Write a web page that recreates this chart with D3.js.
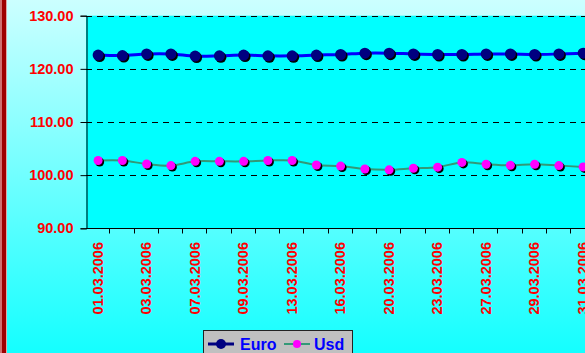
<!DOCTYPE html>
<html>
<head>
<meta charset="utf-8">
<script src="https://cdn.jsdelivr.net/npm/d3@7"></script>
<style>
  html, body { margin: 0; padding: 0; background: #fff; }
  svg { display: block; }
  text { font-family: "Liberation Sans", Arial, sans-serif; font-weight: bold; }
</style>
</head>
<body>
<svg id="chart" width="585" height="353"></svg>
<script>
// Daily exchange rates, March 2006
const dates = [
  "01.03.2006", "02.03.2006", "03.03.2006", "06.03.2006", "07.03.2006",
  "08.03.2006", "09.03.2006", "10.03.2006", "13.03.2006", "15.03.2006",
  "16.03.2006", "17.03.2006", "20.03.2006", "22.03.2006", "23.03.2006",
  "24.03.2006", "27.03.2006", "28.03.2006", "29.03.2006", "30.03.2006",
  "31.03.2006"
];
const euro = [
  122.60, 122.50, 122.80, 122.80, 122.40, 122.45, 122.60, 122.45, 122.45, 122.60,
  122.70, 122.95, 122.95, 122.80, 122.70, 122.70, 122.80, 122.80, 122.70, 122.80,
  122.95
];
const usd = [
  102.75, 102.75, 102.10, 101.80, 102.60, 102.60, 102.60, 102.75, 102.75, 101.90,
  101.70, 101.15, 101.00, 101.30, 101.50, 102.40, 102.05, 101.85, 102.05, 101.80,
  101.55
];
const tickLabels = [
  "01.03.2006", "03.03.2006", "07.03.2006", "09.03.2006", "13.03.2006",
  "16.03.2006", "20.03.2006", "23.03.2006", "27.03.2006", "29.03.2006",
  "31.03.2006"
];
const yTicks = [90, 100, 110, 120, 130];
const seriesNames = ["Euro", "Usd"];

const W = 585, H = 353;
const plot = { left: 86, top: 15.7, bottom: 228.3, band: 24.25 };
const svg = d3.select("#chart");

// background gradient
const defs = svg.append("defs");
const grad = defs.append("linearGradient")
  .attr("id", "bg").attr("x1", 0).attr("y1", 0).attr("x2", 0).attr("y2", 1);
grad.append("stop").attr("offset", "0%").attr("stop-color", "#CCFFFF");
grad.append("stop").attr("offset", "100%").attr("stop-color", "#14FFFF");
svg.append("rect").attr("width", W).attr("height", H).attr("fill", "url(#bg)");

// left frame edge
svg.append("rect").attr("x", 0).attr("y", 0).attr("width", 2).attr("height", H).attr("fill", "#D07070");
svg.append("rect").attr("x", 2).attr("y", 0).attr("width", 4).attr("height", H).attr("fill", "#9E0000");
svg.append("rect").attr("x", 6).attr("y", 0).attr("width", 1).attr("height", H).attr("fill", "#E0A8A8");

const x = d3.scaleBand()
  .domain(dates)
  .range([plot.left, plot.left + dates.length * plot.band])
  .paddingInner(0).paddingOuter(0);
const cx = d => x(d) + x.bandwidth() / 2;

const y = d3.scaleLinear().domain([90, 130]).range([plot.bottom, plot.top]);

// plot area
svg.append("rect")
  .attr("x", plot.left).attr("y", plot.top)
  .attr("width", x.range()[1] - plot.left).attr("height", plot.bottom - plot.top)
  .attr("fill", "#00FFFF");

// dashed gridlines
svg.append("g").selectAll("line")
  .data(yTicks.filter(v => v > 90))
  .join("line")
  .attr("x1", plot.left).attr("x2", W)
  .attr("y1", d => Math.round(y(d)) + 0.5).attr("y2", d => Math.round(y(d)) + 0.5)
  .attr("stroke", "#000").attr("stroke-width", 1)
  .attr("stroke-dasharray", "6,5");

// y axis
const yAxis = svg.append("g")
  .attr("transform", `translate(${plot.left + 0.5},0)`)
  .call(d3.axisLeft(y).tickValues(yTicks).tickFormat(d3.format(".2f")).tickSize(6).tickPadding(7));
yAxis.select(".domain").attr("stroke", "#000");
yAxis.selectAll(".tick line").attr("stroke", "#000");
yAxis.selectAll(".tick text")
  .attr("fill", "#FF0000").attr("font-size", "14.5px")
  .attr("font-family", "Liberation Sans, Arial, sans-serif").attr("font-weight", "bold");

// x axis: ticks between categories
const xAxisG = svg.append("g").attr("transform", `translate(0,${Math.round(plot.bottom) + 0.5})`);
xAxisG.append("line")
  .attr("x1", plot.left).attr("x2", W)
  .attr("stroke", "#000");
xAxisG.selectAll("line.tk")
  .data(dates)
  .join("line").attr("class", "tk")
  .attr("x1", d => Math.round(x(d) + x.bandwidth()) - 0.5)
  .attr("x2", d => Math.round(x(d) + x.bandwidth()) - 0.5)
  .attr("y1", 0).attr("y2", 5)
  .attr("stroke", "#000");

// rotated category labels
svg.append("g").selectAll("text")
  .data(tickLabels)
  .join("text")
  .attr("transform", d => `translate(${cx(d) - 0.5},242) rotate(-90)`)
  .attr("text-anchor", "end")
  .attr("dy", "0.36em")
  .attr("fill", "#FF0000")
  .attr("font-size", "14.5px")
  .text(d => d);

// series
const series = [
  { name: seriesNames[0], values: euro, line: "#0000FF", lw: 3, fill: "#000080", r: 5.5 },
  { name: seriesNames[1], values: usd, line: "#339977", lw: 2, fill: "#FF00FF", r: 4.5 }
];

const lineGen = d3.line()
  .x((d, i) => cx(dates[i]))
  .y(d => y(d))
  .curve(d3.curveCatmullRom.alpha(0.5));

series.forEach(s => {
  svg.append("path")
    .datum(s.values)
    .attr("d", lineGen)
    .attr("fill", "none")
    .attr("stroke", s.line)
    .attr("stroke-width", s.lw);
  const g = svg.append("g");
  g.selectAll("circle.sh")
    .data(s.values)
    .join("circle").attr("class", "sh")
    .attr("cx", (d, i) => cx(dates[i]) + 1.5)
    .attr("cy", d => y(d) + 1.5)
    .attr("r", s.r)
    .attr("fill", "#000");
  g.selectAll("circle.mk")
    .data(s.values)
    .join("circle").attr("class", "mk")
    .attr("cx", (d, i) => cx(dates[i]))
    .attr("cy", d => y(d))
    .attr("r", s.r)
    .attr("fill", s.fill);
});

// legend
const lg = svg.append("g");
lg.append("rect")
  .attr("x", 203.5).attr("y", 330.5).attr("width", 149).attr("height", 30)
  .attr("fill", "#C0C0C0").attr("stroke", "#222").attr("stroke-width", 1);
const legendItems = [
  { s: series[0], x0: 208, x1: 234, tx: 240 },
  { s: series[1], x0: 284, x1: 310, tx: 314 }
];
legendItems.forEach(it => {
  lg.append("line")
    .attr("x1", it.x0).attr("x2", it.x1).attr("y1", 344).attr("y2", 344)
    .attr("stroke", it.s.name === "Euro" ? "#000080" : it.s.line)
    .attr("stroke-width", it.s.lw);
  lg.append("circle")
    .attr("cx", (it.x0 + it.x1) / 2).attr("cy", 344)
    .attr("r", it.s.name === "Euro" ? 5 : 4)
    .attr("fill", it.s.fill);
  lg.append("text")
    .attr("x", it.tx).attr("y", 350)
    .attr("fill", "#0000FF").attr("font-size", "16px")
    .text(it.s.name);
});
</script>
</body>
</html>
